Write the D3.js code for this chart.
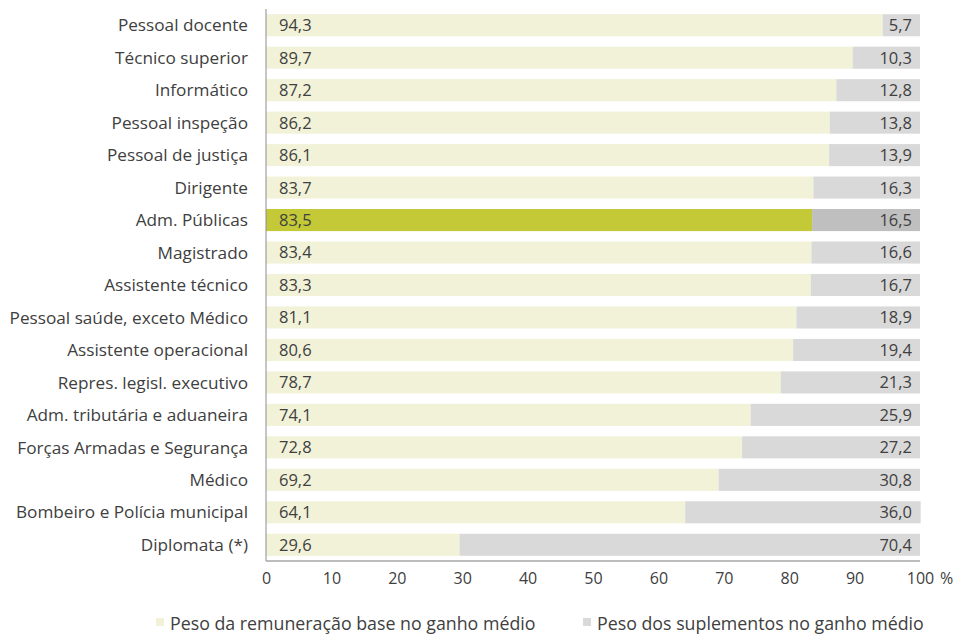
<!DOCTYPE html>
<html><head><meta charset="utf-8">
<script src="https://cdn.jsdelivr.net/npm/d3@7"></script>
<style>body{margin:0;background:#fff}svg{display:block}text{font-family:"Open Sans",sans-serif;fill:#404040}</style>
</head><body><svg id="c" width="958" height="634"></svg>
<script>
const categories = ["Pessoal docente","Técnico superior","Informático","Pessoal inspeção","Pessoal de justiça","Dirigente","Adm. Públicas","Magistrado","Assistente técnico","Pessoal saúde, exceto Médico","Assistente operacional","Repres. legisl. executivo","Adm. tributária e aduaneira","Forças Armadas e Segurança","Médico","Bombeiro e Polícia municipal","Diplomata (*)"];
const baseValues = [94.3,89.7,87.2,86.2,86.1,83.7,83.5,83.4,83.3,81.1,80.6,78.7,74.1,72.8,69.2,64.1,29.6];
const suppValues = [5.7,10.3,12.8,13.8,13.9,16.3,16.5,16.6,16.7,18.9,19.4,21.3,25.9,27.2,30.8,36.0,70.4];
const xTicks = [0,10,20,30,40,50,60,70,80,90,100];
const seriesNames = ["Peso da remuneração base no ganho médio","Peso dos suplementos no ganho médio"];
const highlight = "Adm. Públicas";

const FONT = '"Open Sans",sans-serif';
const svg = d3.select("#c");
const x = d3.scaleLinear().domain([0,100]).range([266,920]);
const y = d3.scaleBand().domain(categories).range([9,561]).paddingInner(0.32).paddingOuter(0.16);
const fmt = v => v.toFixed(1).replace(".", ",");
const colBase = "#F1F2D8", colSupp = "#D9D9D9", colBaseH = "#C3C937", colSuppH = "#BFBFBF";

const rows = categories.map((c,i)=>({c, b:baseValues[i], s:suppValues[i]}));
const g = svg.append("g");
g.selectAll("rect.b").data(rows).join("rect")
 .attr("x", x(0)).attr("y", d=>y(d.c)).attr("height", y.bandwidth())
 .attr("width", d=>x(d.b)-x(0)).attr("fill", d=>d.c===highlight?colBaseH:colBase);
g.selectAll("rect.s").data(rows).join("rect")
 .attr("x", d=>x(d.b)).attr("y", d=>y(d.c)).attr("height", y.bandwidth())
 .attr("width", d=>x(d.b+d.s)-x(d.b)).attr("fill", d=>d.c===highlight?colSuppH:colSupp);
g.selectAll("text.bl").data(rows).join("text")
 .attr("x", x(0)+13).attr("y", d=>y(d.c)+y.bandwidth()/2).attr("dy","0.36em")
 .attr("font-size",16.5).text(d=>fmt(d.b));
g.selectAll("text.sl").data(rows).join("text")
 .attr("x", x(100)-8).attr("y", d=>y(d.c)+y.bandwidth()/2).attr("dy","0.36em")
 .attr("text-anchor","end").attr("font-size",16.5).text(d=>fmt(d.s));

// axes
svg.append("line").attr("x1",x(0)).attr("x2",x(0)).attr("y1",9).attr("y2",561).attr("stroke","#8c8c8c").attr("stroke-width",1);
svg.append("line").attr("x1",x(0)).attr("x2",x(100)).attr("y1",561).attr("y2",561).attr("stroke","#a6a6a6").attr("stroke-width",1.5);

const ya = svg.append("g").attr("transform","translate(248,0)")
 .call(d3.axisLeft(y).tickSize(0).tickPadding(0));
ya.select(".domain").remove();
ya.selectAll("text").attr("font-size",17.2).style("font-family",FONT).attr("fill","#404040").attr("dy","0.36em");

const xa = svg.append("g").attr("transform","translate(0,573)")
 .call(d3.axisBottom(x).tickValues(xTicks).tickSize(0).tickPadding(0).tickFormat(d=>d));
xa.select(".domain").remove();
xa.selectAll("text").attr("font-size",16).attr("dy","0.71em").style("font-family",FONT).attr("fill","#262626");
svg.append("text").attr("x",940).attr("y",573).attr("dy","0.71em").attr("font-size",16)
 .style("font-family",FONT).attr("fill","#262626").text("%");

// legend
const leg = [{n:seriesNames[0],c:colBase,x:156},{n:seriesNames[1],c:colSupp,x:583}];
const lg = svg.selectAll("g.leg").data(leg).join("g").attr("transform",d=>`translate(${d.x},618)`);
lg.append("rect").attr("width",8).attr("height",8).attr("y",0).attr("fill",d=>d.c);
lg.append("text").attr("x",14).attr("y",6).attr("dy","0.36em").attr("font-size",17.8).attr("fill","#262626").text(d=>d.n);
</script></body></html>
